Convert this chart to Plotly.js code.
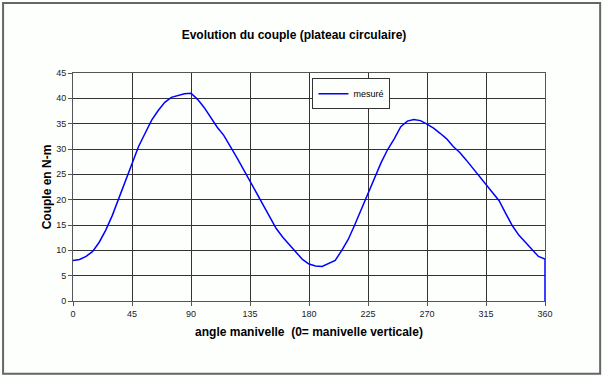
<!DOCTYPE html>
<html>
<head>
<meta charset="utf-8">
<script src="https://cdn.plot.ly/plotly-3.0.1.min.js"></script>
<style>
html,body{margin:0;padding:0;background:#fff;}
#chart{width:605px;height:377px;}
</style>
</head>
<body>
<div id="chart"></div>
<script>
const angles = [0,5,10,15,20,25,30,35,40,45,50,55,60,65,70,75,80,85,90,95,100,105,110,115,120,125,130,135,140,145,150,155,160,165,170,175,180,185,190,195,200,205,210,215,220,225,230,235,240,245,250,255,260,265,270,275,280,285,290,295,300,305,310,315,320,325,330,335,340,345,350,355,360,360];
const couple = [8.0,8.2,8.8,9.8,11.6,14.0,16.9,20.3,23.9,27.4,30.5,33.1,35.7,37.6,39.2,40.2,40.6,40.9,41.0,39.8,38.2,36.2,34.3,32.7,30.6,28.3,26.0,23.7,21.3,19.0,16.7,14.3,12.6,11.1,9.5,8.2,7.3,6.9,6.8,7.4,8.0,10.0,12.2,15.1,18.2,21.3,24.5,27.3,29.9,32.0,34.4,35.5,35.8,35.6,34.9,34.1,33.1,32.0,30.5,29.3,27.8,26.2,24.5,22.9,21.4,19.8,17.3,14.9,13.0,11.6,10.0,8.8,8.3,0];
const xTicks = [0,45,90,135,180,225,270,315,360];
const yTicks = [0,5,10,15,20,25,30,35,40,45];
const seriesName = "mesuré";
const chartTitle = "Evolution du couple (plateau circulaire)";
const xTitle = "angle manivelle  (0= manivelle verticale)";
const yTitle = "Couple en N-m";

const L = 73, R = 59.5, T = 73, B = 76.3;
const W = 605 - L - R, H = 377 - T - B;
function px(x){ return (x - L) / W; }
function py(y){ return (377 - B - y) / H; }

const trace = {
  x: angles, y: couple, type: 'scatter', mode: 'lines', name: seriesName,
  line: {color: '#0000ff', width: 1.5}
};

const axisFont = {family: 'Arial, Liberation Sans, sans-serif', size: 9, color: '#222'};
const layout = {
  width: 605, height: 377,
  margin: {l: L, r: R, t: T, b: B},
  paper_bgcolor: '#fdfffd', plot_bgcolor: '#fdfffd',
  showlegend: true,
  title: {text: '<b>' + chartTitle + '</b>', x: 294/605, xanchor: 'center', y: 1 - 35/377, yanchor: 'middle',
          xref: 'container', yref: 'container', font: {family: 'Arial, Liberation Sans, sans-serif', size: 12, color: '#000'}},
  xaxis: {range: [0, 360], tickvals: xTicks, ticktext: xTicks.map(String), showgrid: true, gridcolor: '#333', gridwidth: 1,
          showline: true, linecolor: '#555', linewidth: 1, mirror: true, zeroline: false,
          ticks: 'outside', ticklen: 4, tickcolor: '#555', tickfont: axisFont,
          title: {text: '<b>' + xTitle + '</b>', standoff: 9, font: {family: 'Arial, Liberation Sans, sans-serif', size: 12, color: '#000'}}},
  yaxis: {range: [0, 45], tickvals: yTicks, ticktext: yTicks.map(String), showgrid: true, gridcolor: '#333', gridwidth: 1,
          showline: true, linecolor: '#555', linewidth: 1, mirror: true, zeroline: false,
          ticks: 'outside', ticklen: 4, tickcolor: '#555', tickfont: axisFont,
          title: {text: '<b>' + yTitle + '</b>', standoff: 1, font: {family: 'Arial, Liberation Sans, sans-serif', size: 12, color: '#000'}}},
  legend: {x: px(312.7), y: py(78.3), xanchor: 'left', yanchor: 'top', bgcolor: '#fdfffd', bordercolor: '#333', borderwidth: 1,
           font: {family: 'Arial, Liberation Sans, sans-serif', size: 9, color: '#000'}, itemwidth: 30, tracegroupgap: 0},
  shapes: [{type: 'rect', xref: 'paper', yref: 'paper', x0: px(3), x1: px(600.7), y0: py(373.3), y1: py(3),
            line: {color: '#666', width: 2}, fillcolor: 'rgba(0,0,0,0)', layer: 'below'}]
};

Plotly.newPlot('chart', [trace], layout, {displayModeBar: false, staticPlot: true});
</script>
</body>
</html>
